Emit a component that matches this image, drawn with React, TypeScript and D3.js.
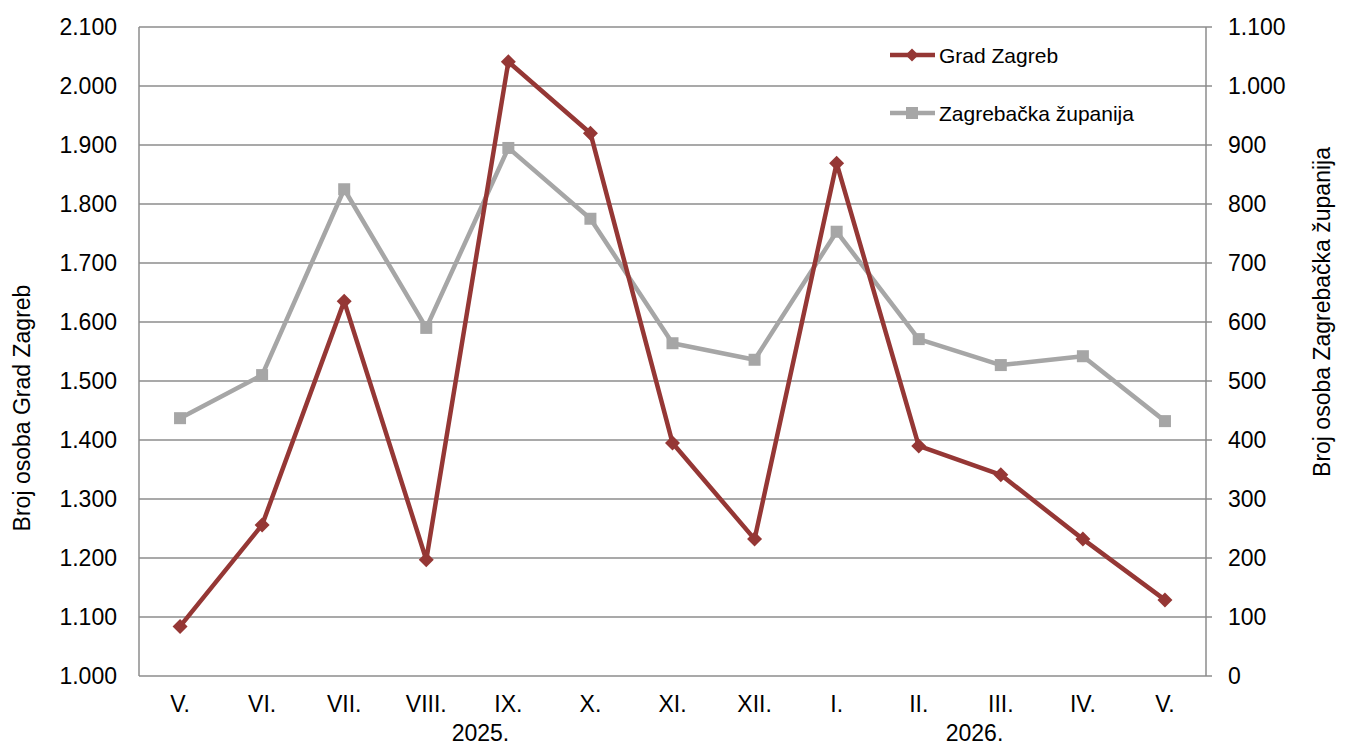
import React from "react";
import * as d3 from "d3";

const categories = ["V.", "VI.", "VII.", "VIII.", "IX.", "X.", "XI.", "XII.", "I.", "II.", "III.", "IV.", "V."];
const gradZagreb = [1084, 1256, 1635, 1197, 2041, 1920, 1395, 1232, 1869, 1390, 1341, 1232, 1129];
const zagrebacka = [437, 510, 825, 590, 895, 775, 564, 536, 753, 571, 527, 542, 432];
const leftTicks = [1000, 1100, 1200, 1300, 1400, 1500, 1600, 1700, 1800, 1900, 2000, 2100];
const rightTicks = [0, 100, 200, 300, 400, 500, 600, 700, 800, 900, 1000, 1100];
const years = [
  { label: "2025.", pos: 4.16 },
  { label: "2026.", pos: 10.18 },
];
const seriesNames = ["Grad Zagreb", "Zagrebačka županija"];

const W = 1346;
const H = 746;
const M = { left: 139, right: 1206, top: 27, bottom: 676 };
const RED = "#953735";
const GRAY = "#A6A6A6";
const AXIS = "#8c8c8c";
const FONT = "'Liberation Sans', Arial, sans-serif";

const fmt = (v: number) => {
  const s = String(v);
  if (s.length > 3) return s.slice(0, s.length - 3) + "." + s.slice(s.length - 3);
  return s;
};

export default function App() {
  const x = d3.scaleBand<string>().domain(categories.map((_, i) => String(i))).range([M.left, M.right]);
  const xi = d3.scaleLinear().domain([0, categories.length]).range([M.left, M.right]);
  const yL = d3.scaleLinear().domain([1000, 2100]).range([M.bottom, M.top]);
  const yR = d3.scaleLinear().domain([0, 1100]).range([M.bottom, M.top]);
  const cx = (i: number) => (x(String(i)) as number) + x.bandwidth() / 2;

  const lineL = d3.line<number>().x((_, i) => cx(i)).y((d) => yL(d));
  const lineR = d3.line<number>().x((_, i) => cx(i)).y((d) => yR(d));

  const diamond = (px: number, py: number, r: number) =>
    `M${px},${py - r}L${px + r},${py}L${px},${py + r}L${px - r},${py}Z`;

  return (
    <svg width={W} height={H} style={{ position: "absolute", left: 0, top: 0, background: "#fff" }} fontFamily={FONT}>
      {leftTicks.map((t) => (
        <line key={"g" + t} x1={M.left} x2={M.right + 6} y1={yL(t)} y2={yL(t)} stroke={AXIS} strokeWidth={1.5} />
      ))}
      <line x1={M.left} x2={M.left} y1={M.top} y2={M.bottom} stroke={AXIS} strokeWidth={1.5} />
      <line x1={M.right} x2={M.right} y1={M.top} y2={M.bottom} stroke={AXIS} strokeWidth={1.5} />
      {leftTicks.map((t) => (
        <text key={"l" + t} x={117} y={yL(t)} dy="0.36em" textAnchor="end" fontSize={23} fill="#000">
          {fmt(t)}
        </text>
      ))}
      {rightTicks.map((t) => (
        <text key={"r" + t} x={1228} y={yR(t)} dy="0.36em" textAnchor="start" fontSize={23} fill="#000">
          {fmt(t)}
        </text>
      ))}
      {categories.map((c, i) => (
        <text key={"c" + i} x={cx(i)} y={712} textAnchor="middle" fontSize={23} fill="#000">
          {c}
        </text>
      ))}
      {years.map((yv) => (
        <text key={yv.label} x={xi(yv.pos)} y={741} textAnchor="middle" fontSize={23} fill="#000">
          {yv.label}
        </text>
      ))}
      <text transform={`translate(30,${408}) rotate(-90)`} textAnchor="middle" fontSize={23} fill="#000">
        Broj osoba Grad Zagreb
      </text>
      <text transform={`translate(1330,${312}) rotate(-90)`} textAnchor="middle" fontSize={23} fill="#000">
        Broj osoba Zagrebačka županija
      </text>
      <path d={lineR(zagrebacka) as string} fill="none" stroke={GRAY} strokeWidth={4.5} strokeLinejoin="round" />
      {zagrebacka.map((v, i) => (
        <rect key={"s" + i} x={cx(i) - 6} y={yR(v) - 6} width={12} height={12} fill={GRAY} />
      ))}
      <path d={lineL(gradZagreb) as string} fill="none" stroke={RED} strokeWidth={4.5} strokeLinejoin="round" />
      {gradZagreb.map((v, i) => (
        <path key={"d" + i} d={diamond(cx(i), yL(v), 7.5)} fill={RED} />
      ))}
      <g>
        <line x1={890} x2={935} y1={55} y2={55} stroke={RED} strokeWidth={4.5} />
        <path d={diamond(912, 55, 6.5)} fill={RED} />
        <text x={939} y={55} dy="0.36em" fontSize={21} fill="#000">{seriesNames[0]}</text>
        <line x1={890} x2={935} y1={113} y2={113} stroke={GRAY} strokeWidth={4.5} />
        <rect x={906} y={107} width={12} height={12} fill={GRAY} />
        <text x={939} y={113} dy="0.36em" fontSize={21} fill="#000">{seriesNames[1]}</text>
      </g>
    </svg>
  );
}
